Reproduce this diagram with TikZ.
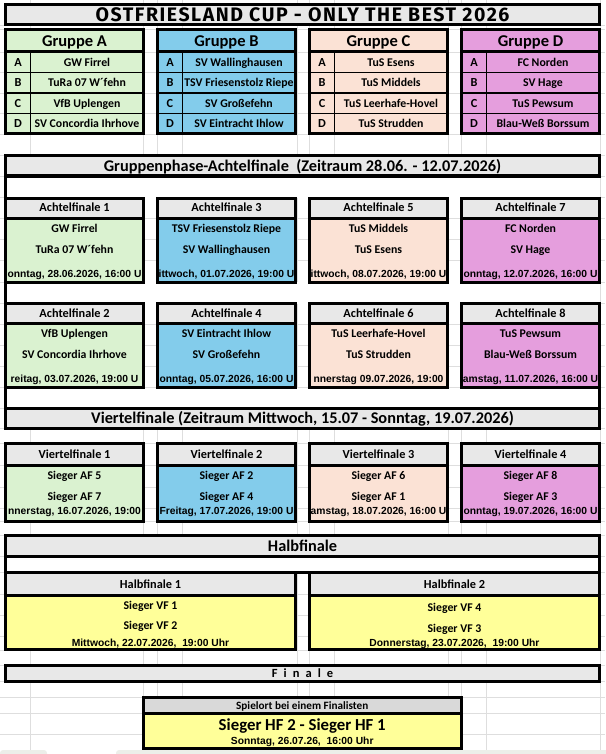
\documentclass[tikz,border=0pt]{standalone}
\usepackage{fontspec}
\setmainfont{Carlito}
\newfontfamily\datefont{Liberation Sans}
\newfontfamily\titlefont{Fira Sans}[LetterSpace=8]
\newfontfamily\spacedfont{Carlito}[LetterSpace=26]

\definecolor{grpA}{HTML}{DAF2D0}
\definecolor{grpB}{HTML}{83CCEB}
\definecolor{grpC}{HTML}{FBE2D5}
\definecolor{grpD}{HTML}{E59EDD}
\definecolor{headgray}{HTML}{E8E8E8}
\definecolor{finalgray}{HTML}{D9D9D9}
\definecolor{hfyellow}{HTML}{FFFF99}
\definecolor{tabgray}{HTML}{ECEEE9}

\begin{document}
\begin{tikzpicture}[x=1pt, y=-1pt,
  boxline/.style={draw=black, line width=3pt},
  rowline/.style={draw=black, line width=1.5pt},
  gridline/.style={draw=black!13, line width=0.5pt},
  titletext/.style={font=\titlefont\bfseries\fontsize{19.5}{21}\selectfont, inner sep=0pt, text height=13.4pt, text depth=0pt},
  section/.style={font=\bfseries\fontsize{16.3}{18}\selectfont, inner sep=0pt, text height=10.4pt, text depth=0pt},
  grouptitle/.style={font=\bfseries\fontsize{16.5}{18}\selectfont, inner sep=0pt, text height=10.6pt, text depth=0pt},
  boxhead/.style={font=\bfseries\fontsize{12.3}{14}\selectfont, inner sep=0pt, text height=7.9pt, text depth=0pt},
  team/.style={font=\bfseries\fontsize{11.8}{13}\selectfont, inner sep=0pt, text height=7.6pt, text depth=0pt},
  datum/.style={font=\datefont\bfseries\fontsize{10.3}{12}\selectfont, inner sep=0pt, text height=7.4pt, text depth=0pt}]

\useasboundingbox (0,0) rectangle (605,754);

% ==================== SHEET GRID ====================
\foreach \gx in {30,143,157,182,297,309,334,448,461,486,600}
  \draw[gridline] (\gx,0) -- (\gx,754);
\foreach \gy in {25,29,52,72.5,93,113.5,134,155,176,197,218,239,260,282,303,324,345,366,387,408,428,443,465,487,508,521,535,556,572,594,615,636,650,665,681,697,713,734}
  \draw[gridline] (0,\gy) -- (605,\gy);

% sheet tabs at the bottom edge
\fill[tabgray, rounded corners=3pt] (0,750) rectangle (47,762);
\fill[tabgray, rounded corners=3pt] (116,750) rectangle (610,762);

% ==================== TITLE ====================
\draw[boxline, fill=headgray] (5.5,5) rectangle (599.5,24.5);
\node[titletext] (title) at (302.5,14.8) {OSTFRIESLAND CUP - ONLY THE BEST 2026};

% ==================== GRUPPE A ====================
\begin{scope}[shift={(5.5,30)}]
  \fill[grpA] (0,0) rectangle (138,104);
  \draw[rowline] (25,22) -- (25,104);
  \draw[rowline] (0,42.5) -- (138,42.5) (0,63) -- (138,63) (0,83.5) -- (138,83.5);
  \draw[boxline] (0,22) -- (138,22);
  \draw[boxline] (0,0) rectangle (138,104);
  \node[grouptitle] (gA) at (69,11.5) {Gruppe A};
  \node[boxhead] (gA-a) at (12.5,32.5) {A};
  \node[boxhead] (gA-b) at (12.5,53) {B};
  \node[boxhead] (gA-c) at (12.5,73.5) {C};
  \node[boxhead] (gA-d) at (12.5,94) {D};
  \node[team] (gA-1) at (81.5,32.5) {GW Firrel};
  \node[team] (gA-2) at (81.5,53) {TuRa 07 W´fehn};
  \node[team] (gA-3) at (81.5,73.5) {VfB Uplengen};
  \node[team] (gA-4) at (81.5,94) {SV Concordia Ihrhove};
\end{scope}

% ==================== GRUPPE B ====================
\begin{scope}[shift={(157.5,30)}]
  \fill[grpB] (0,0) rectangle (138,104);
  \draw[rowline] (25,22) -- (25,104);
  \draw[rowline] (0,42.5) -- (138,42.5) (0,63) -- (138,63) (0,83.5) -- (138,83.5);
  \draw[boxline] (0,22) -- (138,22);
  \draw[boxline] (0,0) rectangle (138,104);
  \node[grouptitle] (gB) at (69,11.5) {Gruppe B};
  \node[boxhead] (gB-a) at (12.5,32.5) {A};
  \node[boxhead] (gB-b) at (12.5,53) {B};
  \node[boxhead] (gB-c) at (12.5,73.5) {C};
  \node[boxhead] (gB-d) at (12.5,94) {D};
  \node[team] (gB-1) at (81.5,32.5) {SV Wallinghausen};
  \node[team] (gB-2) at (81.5,53) {TSV Friesenstolz Riepe};
  \node[team] (gB-3) at (81.5,73.5) {SV Großefehn};
  \node[team] (gB-4) at (81.5,94) {SV Eintracht Ihlow};
\end{scope}

% ==================== GRUPPE C ====================
\begin{scope}[shift={(309.5,30)}]
  \fill[grpC] (0,0) rectangle (138,104);
  \draw[rowline] (25,22) -- (25,104);
  \draw[rowline] (0,42.5) -- (138,42.5) (0,63) -- (138,63) (0,83.5) -- (138,83.5);
  \draw[boxline] (0,22) -- (138,22);
  \draw[boxline] (0,0) rectangle (138,104);
  \node[grouptitle] (gC) at (69,11.5) {Gruppe C};
  \node[boxhead] (gC-a) at (12.5,32.5) {A};
  \node[boxhead] (gC-b) at (12.5,53) {B};
  \node[boxhead] (gC-c) at (12.5,73.5) {C};
  \node[boxhead] (gC-d) at (12.5,94) {D};
  \node[team] (gC-1) at (81.5,32.5) {TuS Esens};
  \node[team] (gC-2) at (81.5,53) {TuS Middels};
  \node[team] (gC-3) at (81.5,73.5) {TuS Leerhafe-Hovel};
  \node[team] (gC-4) at (81.5,94) {TuS Strudden};
\end{scope}

% ==================== GRUPPE D ====================
\begin{scope}[shift={(461.5,30)}]
  \fill[grpD] (0,0) rectangle (138,104);
  \draw[rowline] (25,22) -- (25,104);
  \draw[rowline] (0,42.5) -- (138,42.5) (0,63) -- (138,63) (0,83.5) -- (138,83.5);
  \draw[boxline] (0,22) -- (138,22);
  \draw[boxline] (0,0) rectangle (138,104);
  \node[grouptitle] (gD) at (69,11.5) {Gruppe D};
  \node[boxhead] (gD-a) at (12.5,32.5) {A};
  \node[boxhead] (gD-b) at (12.5,53) {B};
  \node[boxhead] (gD-c) at (12.5,73.5) {C};
  \node[boxhead] (gD-d) at (12.5,94) {D};
  \node[team] (gD-1) at (81.5,32.5) {FC Norden};
  \node[team] (gD-2) at (81.5,53) {SV Hage};
  \node[team] (gD-3) at (81.5,73.5) {TuS Pewsum};
  \node[team] (gD-4) at (81.5,94) {Blau-Weß Borssum};
\end{scope}

% ==================== ACHTELFINALE FRAME ====================
\fill[white] (5.5,176) rectangle (599.5,198);
\fill[white] (5.5,282) rectangle (599.5,303.5);
\fill[white] (5.5,387.5) rectangle (599.5,408);
\draw[boxline, fill=headgray] (5.5,156) rectangle (599.5,176);
\node[section] (afhead) at (302.5,166) {Gruppenphase-Achtelfinale\ \ (Zeitraum 28.06. - 12.07.2026)};
\draw[boxline] (5.5,176) -- (5.5,408);
\draw[boxline] (599.5,387.5) -- (599.5,408);

% Achtelfinale 1
\begin{scope}[shift={(5.5,198)}]
  \fill[grpA] (0,20) rectangle (138,84);
  \fill[headgray] (0,0) rectangle (138,20);
  \draw[boxline] (0,20) -- (138,20);
  \draw[boxline] (0,0) rectangle (138,84);
  \node[boxhead] (af1) at (69,10) {Achtelfinale 1};
  \node[team] (af1-a) at (69,31) {GW Firrel};
  \node[team] (af1-b) at (69,51.5) {TuRa 07 W´fehn};
  \node[datum] (af1-d) at (69,76) {onntag, 28.06.2026, 16:00 U};
\end{scope}

% Achtelfinale 3
\begin{scope}[shift={(157.5,198)}]
  \fill[grpB] (0,20) rectangle (138,84);
  \fill[headgray] (0,0) rectangle (138,20);
  \draw[boxline] (0,20) -- (138,20);
  \draw[boxline] (0,0) rectangle (138,84);
  \node[boxhead] (af3) at (69,10) {Achtelfinale 3};
  \node[team] (af3-a) at (69,31) {TSV Friesenstolz Riepe};
  \node[team] (af3-b) at (69,51.5) {SV Wallinghausen};
  \node[datum] (af3-d) at (69,76) {ittwoch, 01.07.2026, 19:00 U};
\end{scope}

% Achtelfinale 5
\begin{scope}[shift={(309.5,198)}]
  \fill[grpC] (0,20) rectangle (138,84);
  \fill[headgray] (0,0) rectangle (138,20);
  \draw[boxline] (0,20) -- (138,20);
  \draw[boxline] (0,0) rectangle (138,84);
  \node[boxhead] (af5) at (69,10) {Achtelfinale 5};
  \node[team] (af5-a) at (69,31) {TuS Middels};
  \node[team] (af5-b) at (69,51.5) {TuS Esens};
  \node[datum] (af5-d) at (69,76) {ittwoch, 08.07.2026, 19:00 U};
\end{scope}

% Achtelfinale 7
\begin{scope}[shift={(461.5,198)}]
  \fill[grpD] (0,20) rectangle (138,84);
  \fill[headgray] (0,0) rectangle (138,20);
  \draw[boxline] (0,20) -- (138,20);
  \draw[boxline] (0,0) rectangle (138,84);
  \node[boxhead] (af7) at (69,10) {Achtelfinale 7};
  \node[team] (af7-a) at (69,31) {FC Norden};
  \node[team] (af7-b) at (69,51.5) {SV Hage};
  \node[datum] (af7-d) at (69,76) {onntag, 12.07.2026, 16:00 U};
\end{scope}

% Achtelfinale 2
\begin{scope}[shift={(5.5,303.5)}]
  \fill[grpA] (0,20) rectangle (138,84);
  \fill[headgray] (0,0) rectangle (138,20);
  \draw[boxline] (0,20) -- (138,20);
  \draw[boxline] (0,0) rectangle (138,84);
  \node[boxhead] (af2) at (69,10) {Achtelfinale 2};
  \node[team] (af2-a) at (69,30) {VfB Uplengen};
  \node[team] (af2-b) at (69,51.5) {SV Concordia Ihrhove};
  \node[datum] (af2-d) at (69,75) {reitag, 03.07.2026, 19:00 U};
\end{scope}

% Achtelfinale 4
\begin{scope}[shift={(157.5,303.5)}]
  \fill[grpB] (0,20) rectangle (138,84);
  \fill[headgray] (0,0) rectangle (138,20);
  \draw[boxline] (0,20) -- (138,20);
  \draw[boxline] (0,0) rectangle (138,84);
  \node[boxhead] (af4) at (69,10) {Achtelfinale 4};
  \node[team] (af4-a) at (69,30) {SV Eintracht Ihlow};
  \node[team] (af4-b) at (69,51.5) {SV Großefehn};
  \node[datum] (af4-d) at (69,75) {onntag, 05.07.2026, 16:00 U};
\end{scope}

% Achtelfinale 6
\begin{scope}[shift={(309.5,303.5)}]
  \fill[grpC] (0,20) rectangle (138,84);
  \fill[headgray] (0,0) rectangle (138,20);
  \draw[boxline] (0,20) -- (138,20);
  \draw[boxline] (0,0) rectangle (138,84);
  \node[boxhead] (af6) at (69,10) {Achtelfinale 6};
  \node[team] (af6-a) at (69,30) {TuS Leerhafe-Hovel};
  \node[team] (af6-b) at (69,51.5) {TuS Strudden};
  \node[datum] (af6-d) at (69,75) {nnerstag 09.07.2026, 19:00};
\end{scope}

% Achtelfinale 8
\begin{scope}[shift={(461.5,303.5)}]
  \fill[grpD] (0,20) rectangle (138,84);
  \fill[headgray] (0,0) rectangle (138,20);
  \draw[boxline] (0,20) -- (138,20);
  \draw[boxline] (0,0) rectangle (138,84);
  \node[boxhead] (af8) at (69,10) {Achtelfinale 8};
  \node[team] (af8-a) at (69,30) {TuS Pewsum};
  \node[team] (af8-b) at (69,51.5) {Blau-Weß Borssum};
  \node[datum] (af8-d) at (69,75) {amstag, 11.07.2026, 16:00 U};
\end{scope}

% ==================== VIERTELFINALE ====================
\draw[boxline, fill=headgray] (5.5,408) rectangle (599.5,428.5);
\node[section] (vfhead) at (302.5,418.5) {Viertelfinale (Zeitraum Mittwoch, 15.07 - Sonntag, 19.07.2026)};

% Viertelfinale 1
\begin{scope}[shift={(5.5,443.5)}]
  \fill[grpA] (0,21.5) rectangle (138,77.5);
  \fill[headgray] (0,0) rectangle (138,21.5);
  \draw[boxline] (0,21.5) -- (138,21.5);
  \draw[boxline] (0,0) rectangle (138,77.5);
  \node[boxhead] (vf1) at (69,11) {Viertelfinale 1};
  \node[team] (vf1-a) at (69,32.5) {Sieger AF 5};
  \node[team] (vf1-b) at (69,53.5) {Sieger AF 7};
  \node[datum] (vf1-d) at (69,67.5) {nnerstag, 16.07.2026, 19:00};
\end{scope}

% Viertelfinale 2
\begin{scope}[shift={(157.5,443.5)}]
  \fill[grpB] (0,21.5) rectangle (138,77.5);
  \fill[headgray] (0,0) rectangle (138,21.5);
  \draw[boxline] (0,21.5) -- (138,21.5);
  \draw[boxline] (0,0) rectangle (138,77.5);
  \node[boxhead] (vf2) at (69,11) {Viertelfinale 2};
  \node[team] (vf2-a) at (69,32.5) {Sieger AF 2};
  \node[team] (vf2-b) at (69,53.5) {Sieger AF 4};
  \node[datum] (vf2-d) at (69,67.5) {Freitag, 17.07.2026, 19:00 U};
\end{scope}

% Viertelfinale 3
\begin{scope}[shift={(309.5,443.5)}]
  \fill[grpC] (0,21.5) rectangle (138,77.5);
  \fill[headgray] (0,0) rectangle (138,21.5);
  \draw[boxline] (0,21.5) -- (138,21.5);
  \draw[boxline] (0,0) rectangle (138,77.5);
  \node[boxhead] (vf3) at (69,11) {Viertelfinale 3};
  \node[team] (vf3-a) at (69,32.5) {Sieger AF 6};
  \node[team] (vf3-b) at (69,53.5) {Sieger AF 1};
  \node[datum] (vf3-d) at (69,67.5) {amstag, 18.07.2026, 16:00 U};
\end{scope}

% Viertelfinale 4
\begin{scope}[shift={(461.5,443.5)}]
  \fill[grpD] (0,21.5) rectangle (138,77.5);
  \fill[headgray] (0,0) rectangle (138,21.5);
  \draw[boxline] (0,21.5) -- (138,21.5);
  \draw[boxline] (0,0) rectangle (138,77.5);
  \node[boxhead] (vf4) at (69,11) {Viertelfinale 4};
  \node[team] (vf4-a) at (69,32.5) {Sieger AF 8};
  \node[team] (vf4-b) at (69,53.5) {Sieger AF 3};
  \node[datum] (vf4-d) at (69,67.5) {onntag, 19.07.2026, 16:00 U};
\end{scope}

% ==================== HALBFINALE ====================
\fill[white] (5.5,556) rectangle (599.5,572);
\draw[boxline, fill=headgray] (5.5,535.5) rectangle (599.5,556);
\draw[boxline] (5.5,535.5) rectangle (599.5,572);
\node[section] (hfhead) at (302.5,546) {Halbfinale};

% Halbfinale 1
\begin{scope}[shift={(5.5,572)}]
  \fill[hfyellow] (0,23) rectangle (290,77.5);
  \fill[headgray] (0,0) rectangle (290,23);
  \draw[boxline] (0,23) -- (290,23);
  \draw[boxline] (0,0) rectangle (290,77.5);
  \node[boxhead] (hf1) at (145,13) {Halbfinale 1};
  \node[team] (hf1-a) at (145,34) {Sieger VF 1};
  \node[team] (hf1-b) at (145,54) {Sieger VF 2};
  \node[datum] (hf1-d) at (145,71) {Mittwoch, 22.07.2026,\ \ 19:00 Uhr};
\end{scope}

% Halbfinale 2
\begin{scope}[shift={(309.5,572)}]
  \fill[hfyellow] (0,23) rectangle (290,77.5);
  \fill[headgray] (0,0) rectangle (290,23);
  \draw[boxline] (0,23) -- (290,23);
  \draw[boxline] (0,0) rectangle (290,77.5);
  \node[boxhead] (hf2) at (145,13) {Halbfinale 2};
  \node[team] (hf2-a) at (145,36) {Sieger VF 4};
  \node[team] (hf2-b) at (145,57) {Sieger VF 3};
  \node[datum] (hf2-d) at (145,71) {Donnerstag, 23.07.2026,\ \ 19:00 Uhr};
\end{scope}

% ==================== FINALE ====================
\draw[boxline, fill=headgray] (5.5,665.5) rectangle (599.5,681);
\node[boxhead, font=\spacedfont\bfseries\fontsize{12.5}{14}\selectfont] (fhead) at (302.5,673.5) {F i n a l e};

\begin{scope}[shift={(143,697.5)}]
  \fill[hfyellow] (0,16) rectangle (318.5,50.5);
  \fill[finalgray] (0,0) rectangle (318.5,16);
  \draw[boxline] (0,16) -- (318.5,16);
  \draw[boxline] (0,0) rectangle (318.5,50.5);
  \node[boxhead, font=\bfseries\fontsize{11.2}{13}\selectfont] (fin) at (159.25,8) {Spielort bei einem Finalisten};
  \node[section, font=\bfseries\fontsize{16.8}{18}\selectfont] (fin-a) at (159.25,27.5) {Sieger HF 2 - Sieger HF 1};
  \node[datum] (fin-d) at (159.25,43.5) {Sonntag, 26.07.26,\ \ 16:00 Uhr};
\end{scope}

\end{tikzpicture}
\end{document}
